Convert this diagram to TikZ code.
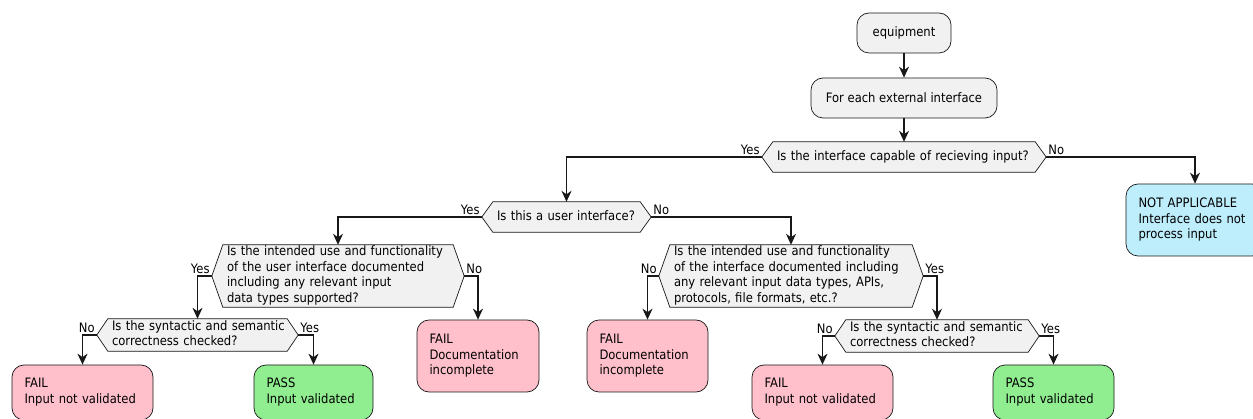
\documentclass[tikz,border=0pt]{standalone}
\usepackage{fontspec}
\setmainfont{DejaVu Sans}[FakeStretch=0.89]
\usetikzlibrary{arrows.meta,calc,backgrounds}

\definecolor{ink}{HTML}{181818}
\definecolor{boxfill}{HTML}{F1F1F1}
\definecolor{failfill}{HTML}{FFC0CB}
\definecolor{passfill}{HTML}{90EE90}
\definecolor{nafill}{HTML}{BEEEFC}

\tikzset{
  txt/.style={font=\fontsize{13}{15.5}\selectfont, text=black},
  act/.style={txt, draw=ink, line width=0.7pt, fill=boxfill,
    rounded corners=12pt, inner sep=0pt, align=center},
  res/.style={txt, draw=ink, line width=0.7pt, rounded corners=12pt,
    inner xsep=12.5pt, inner ysep=0pt, align=left},
  hexbody/.style={txt, inner xsep=4pt, inner ysep=0pt, align=left},
  hexshape/.style={draw=ink, line width=0.7pt, fill=boxfill},
  arr/.style={draw=ink, line width=1.3pt,
    -{Stealth[length=11pt,width=10pt,inset=3.5pt]}},
  lbl/.style={txt, inner sep=1pt},
}

% hexagon around a decision node: flat top and bottom, pointed ends
\newcommand\hexagonof[1]{%
  \path[hexshape] (#1.north west) -- (#1.north east) -- (#1e)
    -- (#1.south east) -- (#1.south west) -- (#1w) -- cycle;}
\newcommand\tips[1]{%
  \coordinate (#1w) at ($(#1.west)+(-11,0)$);
  \coordinate (#1e) at ($(#1.east)+(11,0)$);}

\begin{document}
\begin{tikzpicture}[x=1pt,y=-1pt]
\useasboundingbox (0,0) rectangle (1253,419);
\clip (0,0) rectangle (1253,419);

% actions
\node[act, minimum width=94pt, minimum height=40pt] (eq) at (904,33) {equipment};
\node[act, minimum width=186pt, minimum height=40pt] (fe) at (904,98) {For each external interface};

% decisions
\node[hexbody, text width=254pt, minimum height=30pt] (d1) at (904,157)
  {\begin{tabular}{@{}l@{}}Is the interface capable of recieving input?\end{tabular}};
\node[hexbody, text width=139pt, minimum height=30pt] (d2) at (566.5,217)
  {\begin{tabular}{@{}l@{}}Is this a user interface?\end{tabular}};
\node[hexbody, text width=222pt, minimum height=62pt] (d3) at (338,276)
  {\begin{tabular}{@{}l@{}}Is the intended use and functionality\\of the user interface documented\\including any relevant input\\data types supported?\end{tabular}};
\node[hexbody, text width=234pt, minimum height=62pt] (d5) at (791,276)
  {\begin{tabular}{@{}l@{}}Is the intended use and functionality\\of the interface documented including\\any relevant input data types, APIs,\\protocols, file formats, etc.?\end{tabular}};
\node[hexbody, text width=171pt, minimum height=32pt] (d4) at (197.5,335)
  {\begin{tabular}{@{}l@{}}Is the syntactic and semantic\\correctness checked?\end{tabular}};
\node[hexbody, text width=174pt, minimum height=32pt] (d6) at (937,336)
  {\begin{tabular}{@{}l@{}}Is the syntactic and semantic\\correctness checked?\end{tabular}};

\foreach \d in {d1,d2,d3,d4,d5,d6}{\tips{\d}}
\begin{scope}[on background layer]
  \fill[white] (0,0) rectangle (1253,419);
  \foreach \d in {d1,d2,d3,d4,d5,d6}{\hexagonof{\d}}
\end{scope}

% outcomes
\node[res, fill=nafill, text width=113pt, minimum height=72pt] (na) at (1195,220)
  {\begin{tabular}{@{}l@{}}NOT APPLICABLE\\Interface does not\\process input\end{tabular}};
\node[res, fill=failfill, text width=97pt, minimum height=72pt] (fdl) at (478,356)
  {\begin{tabular}{@{}l@{}}FAIL\\Documentation\\incomplete\end{tabular}};
\node[res, fill=failfill, text width=96pt, minimum height=72pt] (fdm) at (647.5,356)
  {\begin{tabular}{@{}l@{}}FAIL\\Documentation\\incomplete\end{tabular}};
\node[res, fill=failfill, text width=116pt, minimum height=55pt] (fl) at (82.5,392.5)
  {\begin{tabular}{@{}l@{}}FAIL\\Input not validated\end{tabular}};
\node[res, fill=passfill, text width=94pt, minimum height=55pt] (pl) at (313.5,392.5)
  {\begin{tabular}{@{}l@{}}PASS\\Input validated\end{tabular}};
\node[res, fill=failfill, text width=116pt, minimum height=55pt] (fr) at (822.5,392.5)
  {\begin{tabular}{@{}l@{}}FAIL\\Input not validated\end{tabular}};
\node[res, fill=passfill, text width=96pt, minimum height=55pt] (pr) at (1053.5,392.5)
  {\begin{tabular}{@{}l@{}}PASS\\Input validated\end{tabular}};

% connectors
\draw[arr] (eq) -- (fe);
\draw[arr] (fe) -- (d1);
\draw[arr] (d1w) -| (d2.north);
\draw[arr] (d1e) -| (na.north);
\draw[arr] (d2w) -| (d3.north);
\draw[arr] (d2e) -| (d5.north);
\draw[arr] (d3w) -| (d4.north);
\draw[arr] (d3e) -| (fdl.north);
\draw[arr] (d5w) -| (fdm.north);
\draw[arr] (d5e) -| (d6.north);
\draw[arr] (d4w) -| (fl.north);
\draw[arr] (d4e) -| (pl.north);
\draw[arr] (d6w) -| (fr.north);
\draw[arr] (d6e) -| (pr.north);

% branch labels
\foreach \d/\l/\r in {d1/Yes/No, d2/Yes/No, d3/Yes/No, d4/No/Yes, d5/No/Yes, d6/No/Yes}{
  \node[lbl, anchor=south east] (\d yes) at ($(\d w)+(-1,-1)$) {\l};
  \node[lbl, anchor=south west] (\d no) at ($(\d e)+(1,-1)$) {\r};
}
\end{tikzpicture}
\end{document}
